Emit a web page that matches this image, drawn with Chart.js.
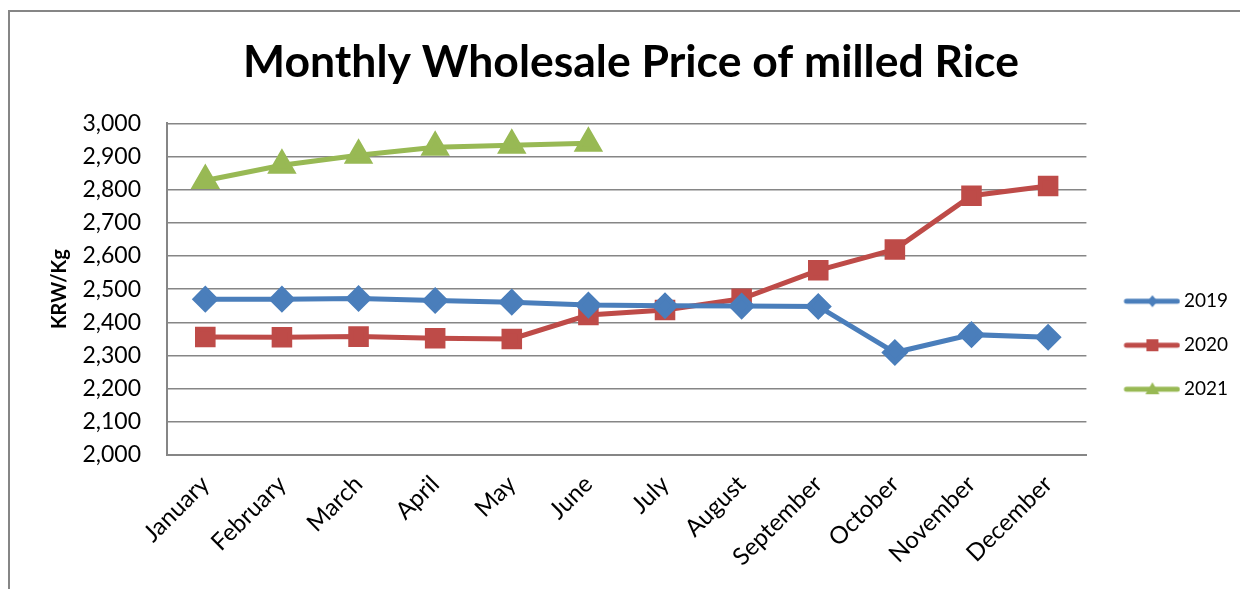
<!DOCTYPE html>
<html>
<head>
<meta charset="utf-8">
<script src="https://cdn.jsdelivr.net/npm/chart.js@4/dist/chart.umd.min.js"></script>
<style>
  html, body { margin: 0; padding: 0; background: #fff; }
  #wrap { width: 1240px; height: 589px; position: relative; }
</style>
</head>
<body>
<div id="wrap"><canvas id="myChart" width="1240" height="589"></canvas></div>
<script>
let months = ['January', 'February', 'March', 'April', 'May', 'June',
              'July', 'August', 'September', 'October', 'November', 'December'];

let price2019 = [2470, 2470, 2472, 2466, 2461, 2452, 2450, 2449, 2448, 2309, 2363, 2355];
let price2020 = [2356, 2355, 2357, 2352, 2350, 2422, 2437, 2471, 2557, 2620, 2782, 2811];
let price2021 = [2828, 2874, 2904, 2928, 2934, 2940, null, null, null, null, null, null];

let blue = '#4a7ebb', red = '#be4b48', green = '#98b954';

// legend swatch: a short line with the series marker on it
function swatch(color, style) {
    let c = document.createElement('canvas');
    c.width = 75; c.height = 24;
    let ctx = c.getContext('2d');
    ctx.strokeStyle = color;
    ctx.fillStyle = color;
    ctx.lineWidth = 5;
    ctx.lineCap = 'round';
    ctx.beginPath();
    ctx.moveTo(21, 12); ctx.lineTo(72, 12);
    ctx.stroke();
    let cx = 47, cy = 12;
    ctx.beginPath();
    if (style === 'rectRot') {
        ctx.moveTo(cx, cy - 6); ctx.lineTo(cx + 5, cy); ctx.lineTo(cx, cy + 6); ctx.lineTo(cx - 5, cy);
    } else if (style === 'rect') {
        ctx.rect(cx - 6, cy - 6, 12, 12);
    } else {
        ctx.moveTo(cx, cy - 7); ctx.lineTo(cx + 7, cy + 5); ctx.lineTo(cx - 7, cy + 5);
    }
    ctx.closePath();
    ctx.fill();
    return c;
}

const frame = {
    id: 'frame',
    beforeDraw(chart) {
        let ctx = chart.ctx;
        ctx.save();
        ctx.strokeStyle = '#868686';
        ctx.lineWidth = 2;
        ctx.beginPath();
        ctx.moveTo(9, 589); ctx.lineTo(9, 11); ctx.lineTo(1240, 11);
        ctx.stroke();
        ctx.restore();
    }
};

new Chart("myChart", {
    type: "line",
    data: {
        labels: months,
        datasets: [{
            label: '2019',
            data: price2019,
            borderColor: blue,
            backgroundColor: blue,
            pointStyle: 'rectRot',
            pointRadius: 10,
            pointHoverRadius: 10,
            borderWidth: 5,
            fill: false
        }, {
            label: '2020',
            data: price2020,
            borderColor: red,
            backgroundColor: red,
            pointStyle: 'rect',
            pointRadius: 11,
            pointHoverRadius: 11,
            borderWidth: 5,
            fill: false
        }, {
            label: '2021',
            data: price2021,
            borderColor: green,
            backgroundColor: green,
            pointStyle: 'triangle',
            pointRadius: 12,
            pointHoverRadius: 12,
            borderWidth: 5,
            fill: false
        }]
    },
    options: {
        responsive: false,
        animation: false,
        spanGaps: false,
        layout: { padding: { left: 24, right: 2, top: 0, bottom: 0 } },
        elements: { line: { tension: 0 } },
        plugins: {
            title: {
                display: true,
                text: 'Monthly Wholesale Price of milled Rice',
                color: '#000',
                font: { family: 'Lato', size: 44.5, weight: 'bold', lineHeight: 1.2 },
                padding: { top: 36, bottom: 34 }
            },
            legend: {
                position: 'right',
                fullSize: false,
                align: 'center',
                title: { display: true, text: ' ', font: { size: 10, lineHeight: 1.2 }, padding: 50 },
                labels: {
                    usePointStyle: true,
                    pointStyleWidth: 63,
                    padding: 25,
                    color: '#000',
                    font: { family: 'Lato', size: 19 },
                    generateLabels(chart) {
                        let styles = ['rectRot', 'rect', 'triangle'];
                        return chart.data.datasets.map((ds, i) => ({
                            text: ds.label,
                            pointStyle: swatch(ds.borderColor, styles[i]),
                            fillStyle: ds.borderColor,
                            strokeStyle: ds.borderColor,
                            lineWidth: 0,
                            fontColor: '#000',
                            datasetIndex: i,
                            hidden: false
                        }));
                    }
                }
            },
            tooltip: { enabled: false }
        },
        scales: {
            x: {
                offset: true,
                grid: { display: false, drawTicks: false, offset: true },
                border: { display: true, color: '#868686', width: 2 },
                ticks: {
                    color: '#000',
                    font: { family: 'Lato', size: 24 },
                    maxRotation: 45,
                    minRotation: 45,
                    autoSkip: false,
                    padding: 15
                },
                afterFit(scale) { scale.height = 134; }
            },
            y: {
                min: 2000,
                max: 3000,
                grid: { color: '#868686', lineWidth: 1.5, drawTicks: false },
                border: { display: true, color: '#868686', width: 2 },
                ticks: {
                    stepSize: 100,
                    color: '#000',
                    font: { family: 'Lato', size: 23 },
                    padding: 26,
                    callback: v => v.toLocaleString('en-US')
                },
                title: {
                    display: true,
                    text: 'KRW/Kg',
                    color: '#000',
                    font: { family: 'Lato', size: 20, weight: 'bold', lineHeight: 1.2 },
                    padding: { top: 24, bottom: 0 }
                },
                afterFit(scale) { scale.width = 143; }
            }
        }
    },
    plugins: [frame]
});
</script>
</body>
</html>
